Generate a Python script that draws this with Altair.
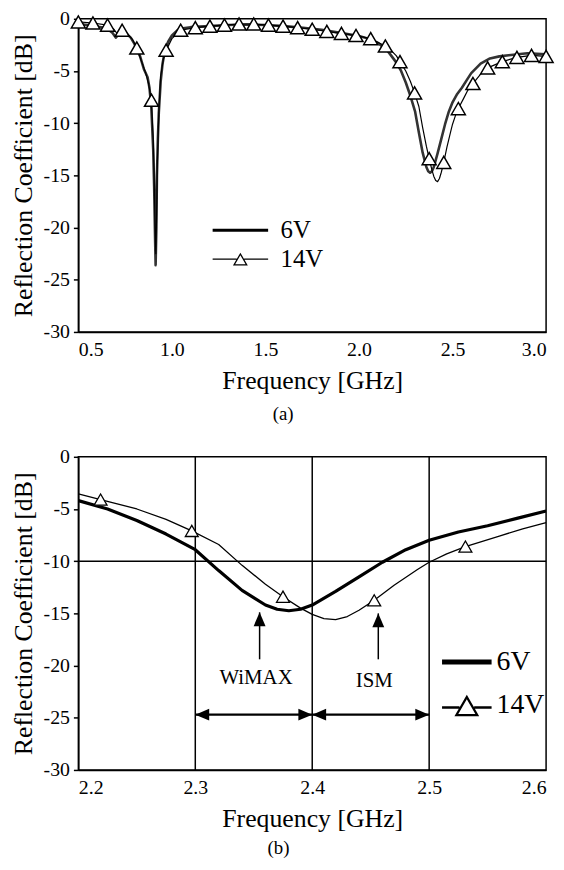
import re
import altair as alt
import pandas as pd

FONT = "Liberation Serif"

# ---------------- data ----------------
series_names = ["6V", "14V"]

freq_6v = [0.5, 0.55, 0.6, 0.65, 0.68, 0.70, 0.72, 0.75, 0.78, 0.80, 0.83, 0.85, 0.87, 0.88,
           0.89, 0.90, 0.905, 0.91, 0.913, 0.917, 0.92, 0.925, 0.93, 0.94, 0.95, 0.96, 0.98,
           1.0, 1.03, 1.06, 1.1, 1.2, 1.3, 1.4, 1.5, 1.6, 1.7, 1.8, 1.9, 2.0, 2.05, 2.1, 2.15,
           2.2, 2.225, 2.25, 2.275, 2.3, 2.32, 2.34, 2.36, 2.37, 2.38, 2.39, 2.40, 2.42, 2.44,
           2.46, 2.48, 2.5, 2.525, 2.55, 2.575, 2.6, 2.65, 2.7, 2.75, 2.8, 2.9, 3.0]
rc_6v = [-0.5, -0.6, -0.75, -0.9, -1.3, -1.8, -1.4, -1.3, -1.8, -2.4, -3.6, -4.8, -5.6, -6.6,
         -8.5, -12.5, -16.0, -21.0, -23.6, -20.0, -15.0, -11.5, -9.0, -6.0, -4.3, -3.3, -2.2,
         -1.6, -1.1, -0.9, -0.8, -0.7, -0.6, -0.55, -0.6, -0.7, -0.85, -1.05, -1.35, -1.65, -1.9,
         -2.3, -3.0, -4.2, -5.0, -6.1, -7.4, -8.9, -10.9, -12.8, -14.2, -14.6, -14.75, -14.6,
         -14.2, -12.9, -11.5, -10.1, -8.9, -8.0, -7.2, -6.6, -5.9, -5.2, -4.3, -3.8, -3.6, -3.5,
         -3.3, -3.4]

freq_14v = [0.5, 0.578, 0.656, 0.69, 0.71, 0.734, 0.76, 0.79, 0.8125, 0.84, 0.86, 0.875, 0.89,
            0.90, 0.905, 0.91, 0.914, 0.918, 0.922, 0.93, 0.94, 0.955, 0.97, 1.0, 1.047, 1.125,
            1.203, 1.281, 1.359, 1.4375, 1.516, 1.594, 1.672, 1.75, 1.828, 1.906, 1.984, 2.0625,
            2.14, 2.17, 2.2, 2.219, 2.25, 2.275, 2.297, 2.32, 2.34, 2.36, 2.375, 2.39, 2.40, 2.41,
            2.42, 2.43, 2.44, 2.453, 2.47, 2.49, 2.5, 2.515, 2.531, 2.56, 2.58, 2.6, 2.609, 2.65,
            2.6875, 2.766, 2.844, 2.922, 3.0]
rc_14v = [-0.3, -0.4, -0.6, -1.0, -1.5, -1.1, -1.4, -2.0, -2.8, -4.2, -5.2, -6.2, -7.8,
          -11.5, -15.0, -20.0, -22.5, -19.0, -14.0, -9.0, -5.5, -3.8, -3.0, -1.9, -1.1, -0.85,
          -0.7, -0.6, -0.5, -0.5, -0.6, -0.7, -0.85, -1.0, -1.2, -1.4, -1.6, -1.9,
          -2.6, -3.0, -3.55, -4.1, -5.0, -6.0, -7.1, -8.4, -10.4, -12.2, -13.4, -14.5, -15.1, -15.5,
          -15.6, -15.3, -14.7, -13.75, -12.3, -10.8, -10.1, -9.3, -8.6, -7.6, -6.9, -6.3, -6.2, -5.3,
          -4.7, -4.1, -3.7, -3.5, -3.6]

marker_freq_14v = [0.5, 0.578, 0.656, 0.734, 0.8125, 0.891, 0.969, 1.047, 1.125, 1.203, 1.281,
                   1.359, 1.4375, 1.516, 1.594, 1.672, 1.75, 1.828, 1.906, 1.984, 2.0625, 2.141,
                   2.219, 2.297, 2.375, 2.453, 2.531, 2.609, 2.6875, 2.766, 2.844, 2.922, 3.0]
marker_rc_14v = [-0.3, -0.4, -0.6, -1.1, -2.8, -7.8, -3.0, -1.1, -0.85, -0.7, -0.6,
                 -0.5, -0.5, -0.6, -0.7, -0.85, -1.0, -1.2, -1.4, -1.6, -1.9, -2.6,
                 -4.1, -7.1, -13.4, -13.75, -8.6, -6.2, -4.7, -4.1, -3.7, -3.5, -3.6]

y_ticks = [0, -5, -10, -15, -20, -25, -30]
x_ticks_a = [0.5, 1.0, 1.5, 2.0, 2.5, 3.0]
x_ticks_b = [2.2, 2.3, 2.4, 2.5, 2.6]

band_edges_ghz = [2.3, 2.4, 2.5]
limit_db = [-10]
band_names = ["WiMAX", "ISM"]
band_lo = [2.3, 2.4]
band_hi = [2.4, 2.5]
band_arrow_db = [-24.7, -24.7]
pointer_ghz = [2.355, 2.4565]
pointer_tip_db = [-14.9, -15.0]
pointer_tail_db = [-19.4, -19.4]
label_ghz = [2.352, 2.453]
label_db = [-21.2, -21.5]

curves = pd.concat([
    pd.DataFrame({"freq": freq_6v, "rc": rc_6v, "series": "6V"}),
    pd.DataFrame({"freq": freq_14v, "rc": rc_14v, "series": "14V"}),
], ignore_index=True)
markers = pd.DataFrame({"freq": marker_freq_14v, "rc": marker_rc_14v, "series": "14V"})
edges = pd.DataFrame({"freq": band_edges_ghz})
limits = pd.DataFrame({"rc": limit_db})
bands = pd.DataFrame({"band": band_names, "lo": band_lo, "hi": band_hi, "ay": band_arrow_db,
                      "px": pointer_ghz, "tip": pointer_tip_db, "tail": pointer_tail_db,
                      "lx": label_ghz, "ly": label_db})


def scale_path(p, k):
    return re.sub(r"-?\d+(?:\.\d+)?", lambda m: f"{float(m.group()) * k:.4g}", p)


# legend symbol paths in unit coordinates (half length of the line = 1)
P6_A = "M-1,-0.054H1V0.054H-1Z"
P14_A = ("M-1,-0.0214H-0.134V0.0214H-1Z M0.134,-0.0214H1V0.0214H0.134Z "
         "M0,-0.232L0.268,0.232L-0.268,0.232Z M0,-0.14L-0.188,0.186L0.188,0.186Z")
P6_B = "M-1,-0.1H1V0.1H-1Z"
P14_B = ("M-1,0.03H-0.296V0.13H-1Z M0.296,0.03H1V0.13H0.296Z "
         "M0,-0.433L0.5,0.433L-0.5,0.433Z M0,-0.253L-0.344,0.343L0.344,0.343Z")

ARROW_UP = "M0,0L-0.43,1L0.43,1Z"
ARROW_LEFT = "M0,0L1,-0.43L1,0.43Z"
ARROW_RIGHT = "M0,0L-1,-0.43L-1,0.43Z"

LEG_SIZE = 100  # symbol unit = sqrt(100)/2 = 5 px


def panel(xdom, xticks, caption, st):
    xs = alt.Scale(domain=xdom, nice=False, zero=False)
    ys = alt.Scale(domain=[-30, 0], nice=False, zero=False)
    xax = alt.Axis(values=xticks, format=".1f", ticks=False, tickSize=0, labelPadding=8,
                   titlePadding=8, grid=False)
    yax = alt.Axis(values=y_ticks, labelExpr="'' + datum.value", tickSize=5, labelPadding=4,
                   titlePadding=7, grid=False)

    def X(f):
        return alt.X(f, scale=xs, axis=xax, title="Frequency [GHz]")

    def Y(f):
        return alt.Y(f, scale=ys, axis=yax, title="Reflection Coefficient [dB]")

    rng = f"datum.freq >= {xdom[0]} && datum.freq <= {xdom[1]}"
    base = alt.Chart(curves).transform_filter(rng)
    line6 = base.transform_filter("datum.series == '6V'").mark_line(
        color=st["c6"], strokeWidth=st["w6"], strokeJoin="round", clip=True
    ).encode(x=X("freq:Q"), y=Y("rc:Q"))
    line14 = base.transform_filter("datum.series == '14V'").mark_line(
        color="black", strokeWidth=st["w14"], strokeJoin="round", clip=True
    ).encode(x=X("freq:Q"), y=Y("rc:Q"))
    pts = alt.Chart(markers).transform_filter(rng).mark_point(
        shape="triangle-up", filled=True, fill="white", stroke="black",
        strokeWidth=st["mw"], size=st["ms"], opacity=1
    ).encode(x=X("freq:Q"), y=Y("rc:Q"))
    k = st["half"] / 5.0
    paths = [scale_path(p, k) for p in st["paths"]]
    leg = alt.Chart(curves).transform_filter("false").mark_point(
        filled=True, color="black", opacity=1
    ).encode(
        x=X("freq:Q"), y=Y("rc:Q"),
        shape=alt.Shape("series:N", scale=alt.Scale(domain=series_names, range=paths),
                        legend=alt.Legend(orient="none", legendX=st["lx"], legendY=st["ly"],
                                          title=None, labelFont=FONT, labelFontSize=st["lfs"],
                                          labelColor="black", symbolSize=LEG_SIZE,
                                          symbolStrokeWidth=0, symbolFillColor="black",
                                          symbolOpacity=1, labelOffset=st["lo"],
                                          rowPadding=st["rp"], padding=0))
    )
    layers = []
    if st["annot"]:
        vr = alt.Chart(edges).mark_rule(color="black", strokeWidth=1.5).encode(x=X("freq:Q"))
        hr = alt.Chart(limits).mark_rule(color="black", strokeWidth=1.5).encode(y=Y("rc:Q"))
        layers += [vr, hr]
    layers += [line6, line14, pts, leg]
    if st["annot"]:
        shaft = alt.Chart(bands).mark_rule(color="black", strokeWidth=2.5).encode(
            x=X("lo:Q"), x2="hi:Q", y=Y("ay:Q"))
        head_l = alt.Chart(bands).mark_point(shape=ARROW_LEFT, filled=True, color="black",
                                             size=784, opacity=1).encode(x=X("lo:Q"), y=Y("ay:Q"))
        head_r = alt.Chart(bands).mark_point(shape=ARROW_RIGHT, filled=True, color="black",
                                             size=784, opacity=1).encode(x=X("hi:Q"), y=Y("ay:Q"))
        up_shaft = alt.Chart(bands).mark_rule(color="black", strokeWidth=1.5).encode(
            x=X("px:Q"), y=Y("tail:Q"), y2="tip:Q")
        up_head = alt.Chart(bands).mark_point(shape=ARROW_UP, filled=True, color="black",
                                              size=784, opacity=1).encode(x=X("px:Q"), y=Y("tip:Q"))
        txt = alt.Chart(bands).mark_text(font=FONT, fontSize=21, color="black", align="center",
                                         baseline="middle").encode(
            x=X("lx:Q"), y=Y("ly:Q"), text="band:N")
        layers += [shaft, head_l, head_r, up_shaft, up_head, txt]
    return alt.layer(*layers).properties(
        width=472, height=316,
        title=alt.TitleParams(caption, orient="bottom", font=FONT, fontSize=19,
                              fontWeight="normal", color="black", frame="bounds",
                              anchor="middle", offset=st["co"]),
    )


top = panel([0.5, 3.0], x_ticks_a, "(a)",
            dict(c6="#333333", w6=2.6, w14=1.2, mw=1.5, ms=200, annot=False, co=12,
                 paths=[P6_A, P14_A], half=28, lx=151, ly=201, lfs=25, lo=28, rp=3))
bottom = panel([2.2, 2.6], x_ticks_b, "(b)",
               dict(c6="black", w6=3.2, w14=1.3, mw=1.3, ms=170, annot=True, co=8,
                    paths=[P6_B, P14_B], half=25, lx=378, ly=193, lfs=28, lo=16, rp=16))

chart = alt.vconcat(top, bottom, spacing=21).resolve_scale(
    x="independent", y="independent", shape="independent"
).resolve_legend(shape="independent").properties(
    padding={"left": 1, "top": -4, "right": -1, "bottom": 0}, background="white"
).configure_axis(
    domainColor="black", domainWidth=1.5, tickColor="black", tickWidth=1.5,
    labelColor="black", titleColor="black", labelFont=FONT, titleFont=FONT,
    labelFontSize=20, titleFontSize=26, titleFontWeight="normal",
).configure_view(stroke="black", strokeWidth=1.5)

chart.save("out.html", embed_options={"renderer": "svg", "actions": False})
